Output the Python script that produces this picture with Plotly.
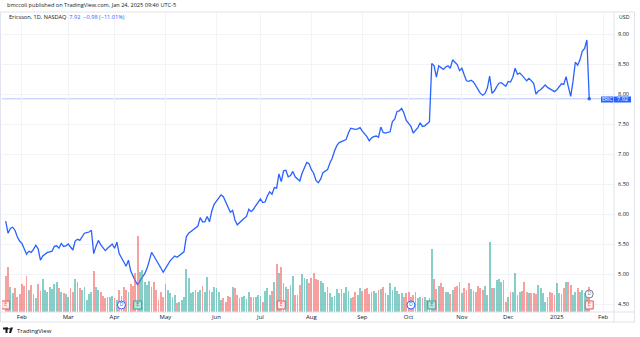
import pandas as pd
import plotly.graph_objects as go

# ---- data -------------------------------------------------------------
HOLIDAYS = ["2024-02-19", "2024-03-29", "2024-05-27", "2024-06-19", "2024-07-04",
            "2024-09-02", "2024-11-28", "2024-12-25", "2025-01-01", "2025-01-09",
            "2025-01-20"]

CLOSE = [
    5.88, 5.68, 5.76, 5.78, 5.73, 5.62, 5.55, 5.51, 5.42, 5.33,
    5.38, 5.36, 5.41, 5.48, 5.42, 5.23, 5.30, 5.33, 5.36, 5.37,
    5.38, 5.46, 5.47, 5.43, 5.51, 5.46, 5.47, 5.50, 5.44, 5.40,
    5.55, 5.58, 5.56, 5.63, 5.68, 5.69, 5.70, 5.73, 5.34, 5.46,
    5.56, 5.49, 5.44, 5.39, 5.43, 5.47, 5.50, 5.43, 5.53, 5.34,
    5.26, 5.20, 5.13, 5.23, 5.05, 4.95, 4.88, 4.82, 4.89, 4.95,
    5.00, 5.09, 5.22, 5.36, 5.30, 5.24, 5.18, 5.10, 5.03, 5.10,
    5.16, 5.22, 5.26, 5.30, 5.28, 5.31, 5.35, 5.37, 5.62, 5.68,
    5.71, 5.74, 5.77, 5.80, 5.94, 5.87, 5.87, 5.96, 5.87, 6.05,
    6.16, 6.22, 6.28, 6.32, 6.29, 6.20, 6.12, 6.03, 6.06, 5.90,
    5.82, 5.86, 5.89, 5.93, 5.96, 6.08, 6.04, 6.08, 6.14, 6.20,
    6.25, 6.19, 6.20, 6.30, 6.37, 6.33, 6.44, 6.43, 6.67, 6.54,
    6.72, 6.73, 6.62, 6.64, 6.71, 6.62, 6.58, 6.55, 6.68, 6.78,
    6.86, 6.84, 6.74, 6.68, 6.56, 6.52, 6.58, 6.69, 6.71, 6.74,
    6.85, 6.93, 7.05, 7.14, 7.19, 7.21, 7.22, 7.24, 7.35, 7.43,
    7.42, 7.41, 7.42, 7.44, 7.38, 7.34, 7.29, 7.22, 7.27, 7.29,
    7.30, 7.28, 7.45, 7.36, 7.35, 7.36, 7.37, 7.54, 7.58, 7.71,
    7.72, 7.76, 7.68, 7.56, 7.50, 7.46, 7.35, 7.40, 7.44, 7.52,
    7.46, 7.47, 7.50, 7.54, 8.51, 8.47, 8.28, 8.47, 8.44, 8.41,
    8.45, 8.47, 8.43, 8.57, 8.53, 8.49, 8.39, 8.43, 8.32, 8.22,
    8.21, 8.23, 8.20, 8.13, 8.06, 8.01, 7.98, 8.01, 8.10, 8.30,
    8.01, 8.05, 8.12, 8.18, 8.19, 8.16, 8.13, 8.21, 8.20, 8.28,
    8.43, 8.33, 8.35, 8.31, 8.26, 8.22, 8.26, 8.22, 8.18, 8.00,
    8.05, 8.07, 8.12, 8.15, 8.11, 8.09, 8.07, 8.04, 8.07, 8.13,
    8.17, 8.16, 8.29, 8.12, 7.96, 8.21, 8.53, 8.48, 8.57, 8.71,
    8.76, 8.90, 7.92,
]

# daily volume, millions of shares
VOLUME = [
    36, 45, 25, 19, 24, 15, 18, 28, 26, 36, 22, 27, 18, 14, 28, 21, 33, 22, 20, 25,
    23, 28, 30, 24, 20, 19, 18, 15, 24, 20, 33, 30, 24, 22, 25, 12, 18, 20, 41, 25,
    22, 20, 16, 14, 15, 15, 16, 14, 12, 22, 16, 25, 22, 20,
    28, 26, 39, 76, 40, 42, 30, 27, 31, 25, 30, 22, 12, 20, 15, 28, 22, 19, 15, 17,
    9, 10, 12, 15, 43, 34, 19, 20, 22, 20, 22, 26, 20, 35, 22, 20, 25, 24, 20, 12,
    14, 10, 16, 15, 25, 24, 17, 14, 15, 16, 13, 20, 15, 15, 15, 17,
    16, 10, 21, 24, 17, 21, 30, 48, 39, 45, 29, 25, 23, 27, 36, 17, 17, 27, 38, 34,
    33, 29, 34, 39, 33, 32, 31, 29, 20, 25, 19, 15, 16, 23, 19, 23, 19, 25, 21, 14,
    15, 20, 17, 24, 21, 23, 24, 18, 20, 21, 19, 22, 23, 25, 19, 17, 29, 22,
    25, 21, 18, 19, 15, 19, 20, 15, 17, 20, 14, 15, 14, 15, 12, 14, 63, 33, 23, 26,
    29, 25, 20, 20, 18, 22, 25, 26, 30, 19, 24, 22, 29, 23, 21, 20, 26, 24, 22, 26,
    17, 70, 24, 24,
    32, 33, 30, 32, 10, 15, 20, 20, 39, 17, 20, 21, 30, 20, 19, 19, 19, 18, 27, 24,
    19, 10, 15, 20, 19, 17, 29, 19, 18, 24, 30, 30, 27, 17, 20, 24, 20, 22, 19, 18,
    25,
]

EVENT_DATES = ["2024-01-23", "2024-04-04", "2024-04-15", "2024-07-15",
               "2024-10-02", "2024-10-15", "2025-01-24"]
EVENT_KIND = ["E", "D", "E", "E", "D", "E", "E"]
EVENT_TONE = ["miss", "div", "beat", "miss", "div", "beat", "miss"]

TICK_DATES = ["2024-02-01", "2024-03-01", "2024-04-01", "2024-05-01", "2024-06-03",
              "2024-07-01", "2024-08-01", "2024-09-03", "2024-10-01", "2024-11-01",
              "2024-12-02", "2025-01-02", "2025-02-03"]
TICK_TEXT = ["Feb", "Mar", "Apr", "May", "Jun", "Jul", "Aug", "Sep", "Oct", "Nov",
             "Dec", "2025", "Feb"]
PRICE_TICKS = [4.5, 5.0, 5.5, 6.0, 6.5, 7.0, 7.5, 8.0, 8.5, 9.0]

# ---- session calendar --------------------------------------------------
sessions = pd.bdate_range("2024-01-23", "2025-01-24")
sessions = sessions[~sessions.isin(pd.to_datetime(HOLIDAYS))]
dates = sessions + pd.Timedelta(hours=12)
assert len(dates) == len(CLOSE) == len(VOLUME)

last = CLOSE[-1]
prev = CLOSE[-2]

up = [False] + [c >= p for p, c in zip(CLOSE[:-1], CLOSE[1:])]
vol_colors = ["rgba(38,166,154,0.55)" if u else "rgba(239,83,80,0.55)" for u in up]

# ---- geometry helpers (pixels -> paper) ---------------------------------
W, H = 640, 337
L, R, T, B = 2, 26, 12, 25
PW, PH = W - L - R, H - T - B


def px(x):
    return (x - L) / PW


def py(y):
    return (H - B - y) / PH


BLUE = "#2962FF"
TXT = "#131722"
GRID = "#f2f3f7"
FRAME = "#e0e3eb"
FONT = "Open Sans"

fig = go.Figure()

fig.add_trace(go.Bar(
    x=dates, y=VOLUME, marker=dict(color=vol_colors, line=dict(width=0)),
    width=0.78 * 86400000, yaxis="y2", hoverinfo="skip", showlegend=False,
))

fig.add_trace(go.Scatter(
    x=dates, y=CLOSE, mode="lines", line=dict(color=BLUE, width=1.3),
    showlegend=False,
))
fig.add_trace(go.Scatter(
    x=[dates[-1]], y=[last], mode="markers",
    marker=dict(color=BLUE, size=3.5), showlegend=False,
))

# event badges (earnings / dividends) along the bottom of the pane
style = {
    "beat": dict(symbol="square", fill="#b9e3de", line="#26a69a", font="#1f8a80"),
    "miss": dict(symbol="square", fill="#fdecec", line="#ef5350", font="#ef5350"),
    "div": dict(symbol="circle", fill="#ffffff", line=BLUE, font=BLUE),
}
for tone in ["beat", "miss", "div"]:
    sel = [i for i, t in enumerate(EVENT_TONE) if t == tone]
    s = style[tone]
    fig.add_trace(go.Scatter(
        x=[pd.Timestamp(EVENT_DATES[i]) + pd.Timedelta(hours=12) for i in sel],
        y=[7] * len(sel), yaxis="y2", mode="markers+text",
        text=[EVENT_KIND[i] for i in sel], textposition="middle center",
        textfont=dict(size=5, color=s["font"], family=FONT),
        marker=dict(symbol=s["symbol"], size=8, color=s["fill"],
                    line=dict(color=s["line"], width=1)),
        showlegend=False, hoverinfo="skip",
    ))
# upcoming dividend badge on the latest session
fig.add_trace(go.Scatter(
    x=[dates[-1]], y=[18], yaxis="y2", mode="markers+text", text=["D"],
    textposition="middle center", textfont=dict(size=5, color="#787b86", family=FONT),
    marker=dict(symbol="circle", size=8, color="#ffffff", line=dict(color="#787b86", width=1)),
    showlegend=False, hoverinfo="skip",
))

x_range = ["2024-01-19 21:36", "2025-02-10 04:48"]

shapes = [
    # widget frame and pane separators
    dict(type="rect", xref="paper", yref="paper", x0=px(0.5), x1=px(634.5),
         y0=py(322), y1=py(12), line=dict(color=FRAME, width=1), layer="below"),
    dict(type="line", xref="paper", yref="paper", x0=px(614), x1=px(614),
         y0=py(322), y1=py(12), line=dict(color=FRAME, width=1)),
    dict(type="line", xref="paper", yref="paper", x0=px(0.5), x1=px(634.5),
         y0=py(312), y1=py(312), line=dict(color=FRAME, width=1)),
    # last price line
    dict(type="line", xref="paper", yref="y", x0=0, x1=1, y0=last, y1=last,
         line=dict(color="rgba(41,98,255,0.35)", width=1), layer="below"),
    # symbol + price tags on the scale
    dict(type="rect", xref="paper", yref="paper", x0=px(601), x1=px(613.5),
         y0=py(102.5), y1=py(96.5), fillcolor=BLUE, line=dict(width=0)),
    dict(type="rect", xref="paper", yref="paper", x0=px(614), x1=px(631),
         y0=py(102.5), y1=py(96.5), fillcolor=BLUE, line=dict(width=0)),
    # logo mark
    dict(type="rect", xref="paper", yref="paper", x0=px(3), x1=px(8),
         y0=py(329.5), y1=py(327.5), fillcolor=TXT, line=dict(width=0)),
    dict(type="rect", xref="paper", yref="paper", x0=px(5.5), x1=px(7.5),
         y0=py(333), y1=py(327.5), fillcolor=TXT, line=dict(width=0)),
    dict(type="circle", xref="paper", yref="paper", x0=px(8.2), x1=px(9.8),
         y0=py(329.5), y1=py(327.9), fillcolor=TXT, line=dict(width=0)),
    dict(type="path", xref="paper", yref="paper",
         path=f"M {px(10.5)},{py(327.5)} L {px(13)},{py(327.5)} L {px(11)},{py(333)} L {px(9)},{py(333)} Z",
         fillcolor=TXT, line=dict(width=0)),
]

annotations = [
    dict(text="bmccoli published on TradingView.com, Jan 24, 2025 09:46 UTC-5",
         xref="paper", yref="paper", x=px(5), y=py(5), xanchor="left", yanchor="middle",
         showarrow=False, font=dict(size=5.6, color=TXT, family=FONT)),
    dict(text=(f"Ericsson, 1D, NASDAQ  <span style='color:{BLUE}'>{last:.2f}  "
               f"\u2212{prev - last:.2f} (\u2212{(prev - last) / prev * 100:.2f}%)</span>"),
         xref="paper", yref="paper", x=px(7), y=py(17), xanchor="left", yanchor="middle",
         showarrow=False, font=dict(size=5.6, color=TXT, family=FONT)),
    dict(text="USD", xref="paper", yref="paper", x=px(624), y=py(17), xanchor="center",
         yanchor="middle", showarrow=False, font=dict(size=5.2, color=TXT, family=FONT)),
    dict(text="ERIC", xref="paper", yref="paper", x=px(607.3), y=py(99.5), xanchor="center",
         yanchor="middle", showarrow=False, font=dict(size=5, color="#ffffff", family=FONT)),
    dict(text=f"{last:.2f}", xref="paper", yref="paper", x=px(622.5), y=py(99.5),
         xanchor="center", yanchor="middle", showarrow=False,
         font=dict(size=5.6, color="#ffffff", family=FONT)),
    dict(text="TradingView", xref="paper", yref="paper", x=px(15), y=py(330.5),
         xanchor="left", yanchor="middle", showarrow=False,
         font=dict(size=6, color=TXT, family=FONT)),
]

fig.update_layout(
    width=W, height=H, autosize=False,
    margin=dict(l=L, r=R, t=T, b=B, pad=0),
    paper_bgcolor="#ffffff", plot_bgcolor="#ffffff",
    font=dict(family=FONT, size=6, color=TXT),
    bargap=0,
    xaxis=dict(
        type="date", range=x_range,
        rangebreaks=[dict(bounds=["sat", "mon"]), dict(values=HOLIDAYS)],
        tickmode="array",
        tickvals=[pd.Timestamp(d) + pd.Timedelta(hours=12) for d in TICK_DATES],
        ticktext=TICK_TEXT, ticks="", showgrid=True, gridcolor=GRID, gridwidth=1,
        zeroline=False, showline=False, tickfont=dict(size=6, color=TXT),
        fixedrange=True,
    ),
    yaxis=dict(
        side="right", range=[4.367, 9.367], tickmode="array", tickvals=PRICE_TICKS,
        ticktext=[f"{v:.2f}" for v in PRICE_TICKS], ticks="", ticklabelstandoff=3,
        showgrid=True, gridcolor=GRID, gridwidth=1, zeroline=False, showline=False,
        tickfont=dict(size=5.6, color=TXT), fixedrange=True,
    ),
    yaxis2=dict(overlaying="y", range=[0, 300], visible=False, fixedrange=True),
    shapes=shapes, annotations=annotations,
)

fig.write_html("out.html", config={"displayModeBar": False})
